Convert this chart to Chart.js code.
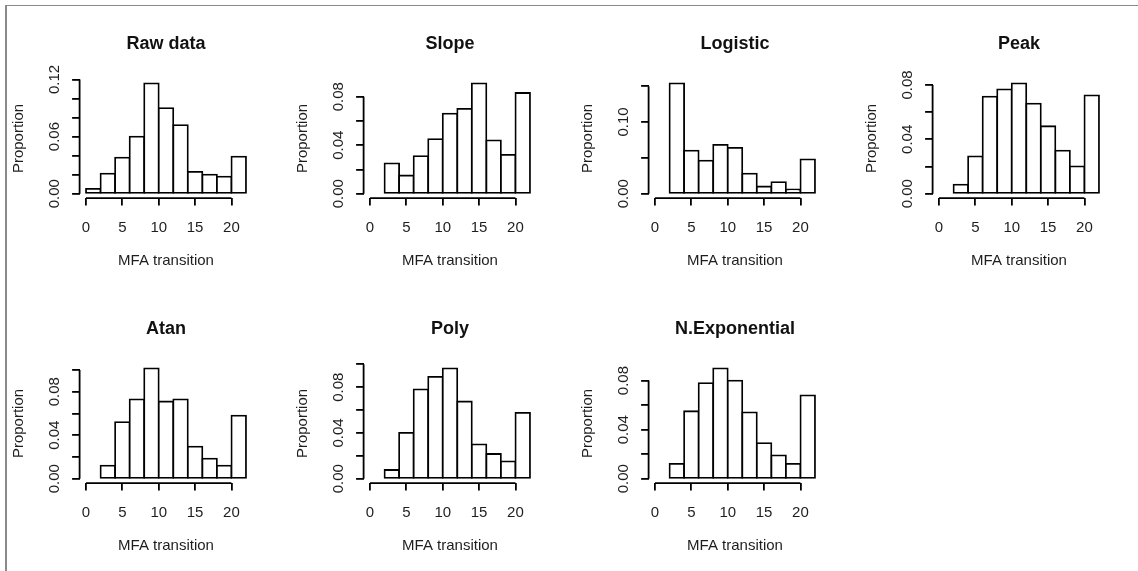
<!DOCTYPE html>
<html>
<head>
<meta charset="utf-8">
<script src="https://cdn.jsdelivr.net/npm/chart.js@4.4.1/dist/chart.umd.min.js"></script>
<style>
body { margin: 0; background: #fff; }
#wrap { position: relative; width: 1138px; height: 571px; overflow: hidden; background: #fff; }
#frame { position: absolute; left: 5px; top: 5px; right: 0; bottom: 0; border-left: 2px solid #8a8a8a; border-top: 1px solid #8a8a8a; }
.panel { position: absolute; width: 285px; height: 285px; }
</style>
</head>
<body>
<div id="wrap">
  <div id="frame"></div>
</div>
<script>
// histogram bins: width 2, from 0 to 22
const binEdges = [0, 22];
const binMids = [1, 3, 5, 7, 9, 11, 13, 15, 17, 19, 21];
const xTicks = [0, 5, 10, 15, 20];
const xTickLabels = ['0', '5', '10', '15', '20'];

const titles = ['Raw data', 'Slope', 'Logistic', 'Peak', 'Atan', 'Poly', 'N.Exponential'];

// proportions per bin (null = empty bin)
const rawData   = [0.005, 0.021, 0.038, 0.060, 0.116, 0.090, 0.072, 0.023, 0.020, 0.018, 0.039];
const slope     = [null, 0.025, 0.015, 0.031, 0.045, 0.066, 0.070, 0.091, 0.044, 0.032, 0.083];
const logistic  = [null, 0.154, 0.060, 0.046, 0.068, 0.064, 0.028, 0.010, 0.016, 0.006, 0.048];
const peak      = [null, 0.0066, 0.0275, 0.0714, 0.0768, 0.0812, 0.0663, 0.0496, 0.0317, 0.0201, 0.0724];
const atan      = [null, 0.012, 0.052, 0.073, 0.1015, 0.071, 0.073, 0.0295, 0.0185, 0.012, 0.058];
const poly      = [null, 0.0076, 0.040, 0.078, 0.089, 0.0965, 0.0675, 0.030, 0.0216, 0.0152, 0.0576];
const nExp      = [null, 0.012, 0.055, 0.078, 0.090, 0.080, 0.054, 0.029, 0.019, 0.012, 0.068];

// y ticks and which of them get a label (R drops the ones that would overlap)
const yTicksRaw = [0, 0.02, 0.04, 0.06, 0.08, 0.10, 0.12];
const yLabelsRaw = ['0.00', '', '', '0.06', '', '', '0.12'];
const yTicks08 = [0, 0.02, 0.04, 0.06, 0.08];
const yLabels08 = ['0.00', '', '0.04', '', '0.08'];
const yTicksLog = [0, 0.05, 0.10, 0.15];
const yLabelsLog = ['0.00', '', '0.10', ''];
const yTicks10 = [0, 0.02, 0.04, 0.06, 0.08, 0.10];
const yLabels10 = ['0.00', '', '0.04', '', '0.08', ''];

const panels = [
  {title: titles[0], values: rawData,  yTicks: yTicksRaw, yLabels: yLabelsRaw},
  {title: titles[1], values: slope,    yTicks: yTicks08,  yLabels: yLabels08},
  {title: titles[2], values: logistic, yTicks: yTicksLog, yLabels: yLabelsLog},
  {title: titles[3], values: peak,     yTicks: yTicks08,  yLabels: yLabels08},
  {title: titles[4], values: atan,     yTicks: yTicks10,  yLabels: yLabels10},
  {title: titles[5], values: poly,     yTicks: yTicks10,  yLabels: yLabels10},
  {title: titles[6], values: nExp,     yTicks: yTicks08,  yLabels: yLabels08}
];

Chart.defaults.font.family = "'Liberation Sans', Arial, sans-serif";
const textColor = '#1e1e1e';
const lineW = 1.8;

// R style axis lines: only from the first tick to the last one
const rAxisLines = {
  id: 'rAxisLines',
  afterDraw(chart) {
    const {ctx, chartArea, scales: {x, y}} = chart;
    ctx.save();
    ctx.strokeStyle = '#000';
    ctx.lineWidth = lineW;
    ctx.beginPath();
    ctx.moveTo(chartArea.left, y.getPixelForValue(y.ticks[0].value));
    ctx.lineTo(chartArea.left, y.getPixelForValue(y.ticks[y.ticks.length - 1].value));
    ctx.moveTo(x.getPixelForValue(x.ticks[0].value), chartArea.bottom);
    ctx.lineTo(x.getPixelForValue(x.ticks[x.ticks.length - 1].value), chartArea.bottom);
    ctx.stroke();
    ctx.restore();
  }
};

const wrap = document.getElementById('wrap');
const xPad = 0.04 * (binEdges[1] - binEdges[0]);

panels.forEach((p, i) => {
  const col = i % 4, row = Math.floor(i / 4);
  const div = document.createElement('div');
  div.className = 'panel';
  div.style.left = Math.floor(col * 284.5) + 'px';
  div.style.top = (row * 285) + 'px';
  const canvas = document.createElement('canvas');
  canvas.width = 285;
  canvas.height = 285;
  div.appendChild(canvas);
  wrap.appendChild(div);

  const ymax = Math.max(...p.values.filter(v => v !== null));

  new Chart(canvas, {
    type: 'bar',
    data: {
      datasets: [{
        data: binMids.map((m, k) => ({x: m, y: p.values[k]})),
        backgroundColor: '#fff',
        borderColor: '#000',
        borderWidth: lineW,
        borderSkipped: false,
        inflateAmount: lineW / 2,
        barPercentage: 1,
        categoryPercentage: 1
      }]
    },
    options: {
      responsive: false,
      animation: false,
      events: [],
      layout: {padding: {left: 0, right: 32.6, top: 0, bottom: 0}, autoPadding: false},
      plugins: {
        legend: {display: false},
        tooltip: {enabled: false},
        title: {
          display: true,
          text: p.title,
          fullSize: false,
          color: '#111',
          font: {size: 18, weight: 'bold'},
          padding: {top: 33.2, bottom: 24.1}
        }
      },
      scales: {
        x: {
          type: 'linear',
          offset: false,
          min: binEdges[0] - xPad,
          max: binEdges[1] + xPad,
          bounds: 'data',
          afterBuildTicks: s => { s.ticks = xTicks.map(v => ({value: v})); },
          afterFit: s => { s.height = 86.9; },
          grid: {offset: false, drawOnChartArea: false, drawTicks: true, tickLength: 7.5, color: '#000', lineWidth: lineW},
          border: {display: false},
          ticks: {
            autoSkip: false, maxRotation: 0, padding: 13.5, color: textColor, font: {size: 15},
            callback: (v, k) => xTickLabels[k]
          },
          title: {display: true, text: 'MFA transition', color: textColor, font: {size: 15}, padding: {top: 0, bottom: 15}}
        },
        y: {
          type: 'linear',
          min: -0.04 * ymax,
          max: 1.04 * ymax,
          bounds: 'data',
          afterBuildTicks: s => { s.ticks = p.yTicks.map(v => ({value: v})); },
          afterFit: s => { s.width = 79.6; },
          grid: {drawOnChartArea: false, drawTicks: true, tickLength: 7.5, color: '#000', lineWidth: lineW},
          border: {display: false},
          ticks: {
            autoSkip: false, minRotation: 90, maxRotation: 90, crossAlign: 'center', padding: 2.5,
            color: textColor, font: {size: 15},
            callback: (v, k) => p.yLabels[k]
          },
          title: {display: true, text: 'Proportion', color: textColor, font: {size: 15}, padding: {top: 9.6, bottom: 0}}
        }
      }
    },
    plugins: [rAxisLines]
  });
});
</script>
</body>
</html>
